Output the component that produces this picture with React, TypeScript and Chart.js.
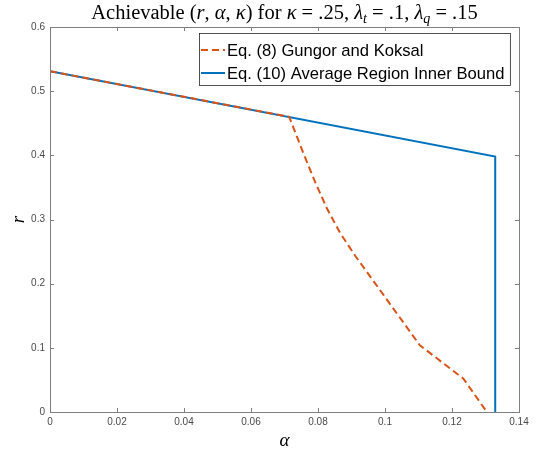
import React, { useEffect, useRef } from "react";
import { Chart, registerables } from "chart.js";

Chart.register(...registerables);

// ---- data ----
const seriesLabels = ["Eq. (8) Gungor and Koksal", "Eq. (10) Average Region Inner Bound"];
const gkAlpha = [0, 0.0714, 0.0758, 0.0791, 0.0826, 0.0866, 0.0913, 0.1104, 0.1234, 0.1304];
const gkR = [0.531, 0.46, 0.401, 0.359, 0.318, 0.279, 0.242, 0.104, 0.052, 0];
const innerAlpha = [0, 0.1329, 0.1329];
const innerR = [0.531, 0.398, 0];
const xTicks = [0, 0.02, 0.04, 0.06, 0.08, 0.1, 0.12, 0.14];
const yTicks = [0, 0.1, 0.2, 0.3, 0.4, 0.5, 0.6];
const titleParts: [string, string][] = [
  ["Achievable (", "n"], ["r", "i"], [", ", "n"], ["α", "i"], [", ", "n"], ["κ", "i"],
  [") for ", "n"], ["κ", "i"], [" = .25, ", "n"], ["λ", "i"], ["t", "s"],
  [" = .1, ", "n"], ["λ", "i"], ["q", "s"], [" = .15", "n"],
];
const xTitle = "α";
const yTitle = "r";

const COLORS = ["#D95319", "#0072BD"];
const SERIF = '"Liberation Serif", "DejaVu Serif", serif';
const SANS = '"Liberation Sans", Arial, sans-serif';

const decor = {
  id: "decor",
  afterDatasetsDraw(chart: any) {
    const { ctx, chartArea: a, scales } = chart;
    ctx.save();
    ctx.strokeStyle = "#7f7f7f";
    ctx.lineWidth = 1;
    ctx.strokeRect(Math.round(a.left) + 0.5, Math.round(a.top) + 0.5, Math.round(a.right - a.left), Math.round(a.bottom - a.top));
    const tl = 4;
    ctx.beginPath();
    xTicks.forEach((v) => {
      const px = Math.round(scales.x.getPixelForValue(v)) + 0.5;
      ctx.moveTo(px, a.bottom); ctx.lineTo(px, a.bottom - tl);
      ctx.moveTo(px, a.top); ctx.lineTo(px, a.top + tl);
    });
    yTicks.forEach((v) => {
      const py = Math.round(scales.y.getPixelForValue(v)) + 0.5;
      ctx.moveTo(a.left, py); ctx.lineTo(a.left + tl, py);
      ctx.moveTo(a.right, py); ctx.lineTo(a.right - tl, py);
    });
    ctx.stroke();
    ctx.restore();
  },
  afterDraw(chart: any) {
    const { ctx, chartArea: a } = chart;
    ctx.save();
    // title
    const fs = 20.5;
    const fontFor = (st: string) =>
      st === "i" ? `italic ${fs}px ${SERIF}` : st === "s" ? `italic ${Math.round(fs * 0.7)}px ${SERIF}` : `${fs}px ${SERIF}`;
    let total = 0;
    titleParts.forEach(([t, st]) => { ctx.font = fontFor(st); total += ctx.measureText(t).width; });
    let x = (a.left + a.right) / 2 - total / 2;
    const baseY = 19;
    ctx.fillStyle = "#000";
    ctx.textBaseline = "alphabetic";
    ctx.textAlign = "left";
    titleParts.forEach(([t, st]) => {
      ctx.font = fontFor(st);
      ctx.fillText(t, x, st === "s" ? baseY + 4 : baseY);
      x += ctx.measureText(t).width;
    });
    // axis titles
    ctx.font = `italic 19px ${SERIF}`;
    ctx.textAlign = "center";
    ctx.textBaseline = "middle";
    ctx.fillText(xTitle, (a.left + a.right) / 2, 441);
    ctx.save();
    ctx.translate(19, (a.top + a.bottom) / 2);
    ctx.rotate(-Math.PI / 2);
    ctx.fillText(yTitle, 0, 0);
    ctx.restore();
    // legend
    ctx.font = `16.6px ${SANS}`;
    const textX = 227;
    const maxW = Math.max(...seriesLabels.map((l) => ctx.measureText(l).width));
    const bx = 199.5, by = 33.5, bw = textX + maxW + 6 - bx, bh = 52;
    ctx.fillStyle = "#fff";
    ctx.fillRect(bx, by, bw, bh);
    ctx.strokeStyle = "#262626";
    ctx.lineWidth = 0.8;
    ctx.strokeRect(bx, by, bw, bh);
    const rows = [50, 73];
    chart.data.datasets.forEach((ds: any, i: number) => {
      ctx.beginPath();
      ctx.strokeStyle = ds.borderColor;
      ctx.lineWidth = 2;
      ctx.setLineDash(ds.borderDash || []);
      ctx.moveTo(201, rows[i]);
      ctx.lineTo(225, rows[i]);
      ctx.stroke();
      ctx.setLineDash([]);
      ctx.fillStyle = "#000";
      ctx.textAlign = "left";
      ctx.textBaseline = "middle";
      ctx.fillText(ds.label, textX, rows[i] + 1);
    });
    ctx.restore();
  },
};

export default function App() {
  const ref = useRef<HTMLCanvasElement>(null);
  useEffect(() => {
    if (!ref.current) return;
    const tickFont = { family: SANS, size: 10 };
    const chart = new Chart(ref.current, {
      type: "line",
      data: {
        datasets: [
          {
            label: seriesLabels[0],
            data: gkAlpha.map((x, i) => ({ x, y: gkR[i] })),
            borderColor: COLORS[0],
            borderWidth: 2,
            borderDash: [7, 4],
            pointRadius: 0,
            fill: false,
            tension: 0,
          },
          {
            label: seriesLabels[1],
            data: innerAlpha.map((x, i) => ({ x, y: innerR[i] })),
            borderColor: COLORS[1],
            borderWidth: 2,
            pointRadius: 0,
            fill: false,
            tension: 0,
          },
        ],
      },
      options: {
        animation: false,
        responsive: false,
        devicePixelRatio: 1,
        layout: { padding: { top: 27, right: 17, left: 0, bottom: 0 } },
        plugins: { legend: { display: false }, title: { display: false }, tooltip: { enabled: false } },
        scales: {
          x: {
            type: "linear",
            min: 0,
            max: 0.14,
            afterBuildTicks: (s: any) => { s.ticks = xTicks.map((v) => ({ value: v })); },
            afterFit: (s: any) => { s.height = 38; },
            grid: { display: false, drawTicks: false, tickLength: 0 },
            border: { display: false },
            ticks: { padding: 4, font: tickFont, color: "#4a4a4a", maxRotation: 0, autoSkip: false, callback: (v: any) => String(v) },
          },
          y: {
            type: "linear",
            min: 0,
            max: 0.6,
            afterBuildTicks: (s: any) => { s.ticks = yTicks.map((v) => ({ value: v })); },
            afterFit: (s: any) => { s.width = 50; },
            grid: { display: false, drawTicks: false, tickLength: 0 },
            border: { display: false },
            ticks: { padding: 5, font: tickFont, color: "#4a4a4a", autoSkip: false, callback: (v: any) => String(v) },
          },
        },
      },
      plugins: [decor],
    } as any);
    return () => chart.destroy();
  }, []);
  return (
    <div style={{ position: "fixed", left: 0, top: 0, width: 536, height: 450, background: "#fff" }}>
      <canvas ref={ref} width={536} height={450} style={{ display: "block", width: 536, height: 450 }} />
    </div>
  );
}
